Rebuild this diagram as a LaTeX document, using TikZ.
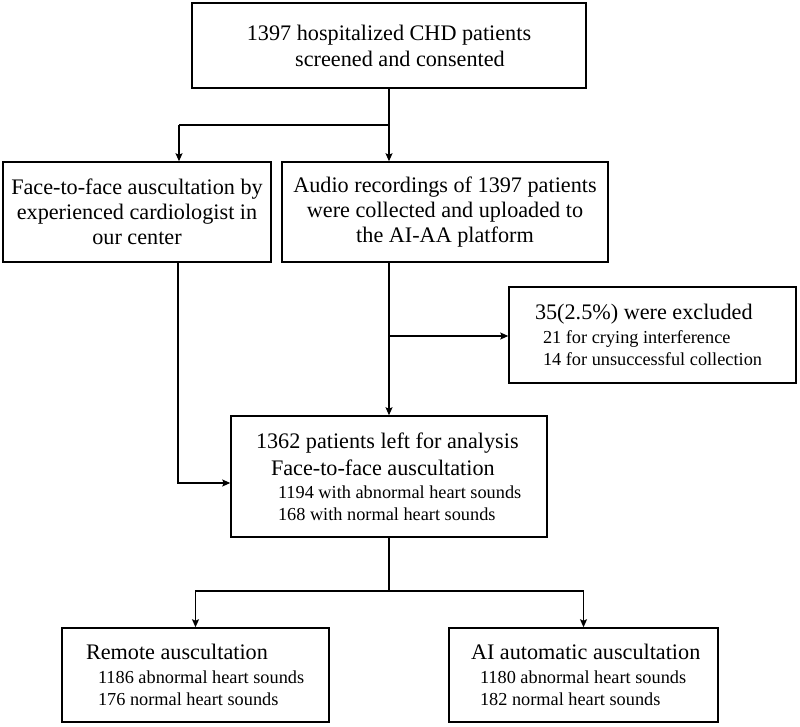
\documentclass[tikz,border=0pt]{standalone}
\usepackage{fontspec}
\setmainfont{Liberation Serif}
\usetikzlibrary{arrows.meta}
\newcommand{\mainfs}{\fontsize{22.2}{22}\selectfont\spaceskip=0pt\relax}
\newcommand{\subfs}{\fontsize{18.3}{22}\selectfont\spaceskip=0pt\relax}

\begin{document}
\begin{tikzpicture}[
            x = 1pt, y = -1pt, % one unit per pixel, y downwards
            > = {Stealth[length=8pt, width=7pt, inset=1.5pt]}, % arrow head style
            line width = 1.3pt % line style
        ]

        \tikzstyle{box}=[
            draw = black,
            line width = 1.5pt,
            fill = white,
            inner sep = 0pt,
            font = \mainfs,
            execute at begin node = {\spaceskip=0pt\xspaceskip=0pt\relax}
        ]
        \useasboundingbox (0,0) rectangle (800,727);

        \node[box] (screened) [minimum width=394pt, minimum height=85pt, align=center] at (389,45.5) {1397 hospitalized CHD patients\\[4pt] \hspace*{22pt}screened and consented};
        \node[box] (facetoface) [minimum width=268pt, minimum height=100pt, align=center] at (137,212) {Face-to-face auscultation by\\[3pt] experienced cardiologist in\\[3pt] our center};
        \node[box] (audio) [minimum width=326pt, minimum height=100pt, align=center] at (445,212) {Audio recordings of 1397 patients\\[3pt] were collected and uploaded to\\[3pt] the AI-AA platform};
        \node[box] (excluded) [minimum height=96pt, text width=287pt, align=left] at (652.5,335) {\hspace*{26pt}35(2.5\%) were excluded\\[2pt]
            {\subfs\hspace*{34pt}21 for crying interference}\\
            {\subfs\hspace*{34pt}14 for unsuccessful collection}};
        \node[box] (analysis) [minimum height=121pt, text width=316pt, align=left] at (389,476.5) {\hspace*{25pt}1362 patients left for analysis\\[5pt]
            \hspace*{40pt}Face-to-face auscultation\\[1pt]
            {\subfs\hspace*{47pt}1194 with abnormal heart sounds}\\
            {\subfs\hspace*{47pt}168 with normal heart sounds}};
        \node[box] (remote) [minimum height=94pt, text width=267pt, align=left] at (195.5,675) {\hspace*{24pt}Remote auscultation\\[2pt]
            {\subfs\hspace*{36pt}1186 abnormal heart sounds}\\
            {\subfs\hspace*{36pt}176 normal heart sounds}};
        \node[box] (automatic) [minimum height=94pt, text width=269pt, align=left] at (583.5,675) {\hspace*{22pt}AI automatic auscultation\\[2pt]
            {\subfs\hspace*{31pt}1180 abnormal heart sounds}\\
            {\subfs\hspace*{31pt}182 normal heart sounds}};

        % split below the first box
        \coordinate (split) at (389,125);
        \coordinate (splitleft) at (179,125);
        \draw (screened) -- (split) -- (splitleft);
        \draw[->] (split) -- (split |- audio.north);
        \draw[->] (splitleft) -- (splitleft |- facetoface.north);

        % exclusions
        \coordinate (branch) at (389,336);
        \draw[->] (branch |- audio.south) -- (branch |- analysis.north);
        \draw[->] (branch) -- (branch -| excluded.west);

        % face-to-face into analysis
        \coordinate (corner) at (178,483);
        \draw[->] (corner |- facetoface.south) -- (corner) -- (corner -| analysis.west);

        % split below analysis
        \coordinate (split2) at (389,591);
        \draw (analysis) -- (split2);
        \draw[->] (split2) -| (remote.north);
        \draw[->] (split2) -| (automatic.north);
    \end{tikzpicture}
\end{document}
